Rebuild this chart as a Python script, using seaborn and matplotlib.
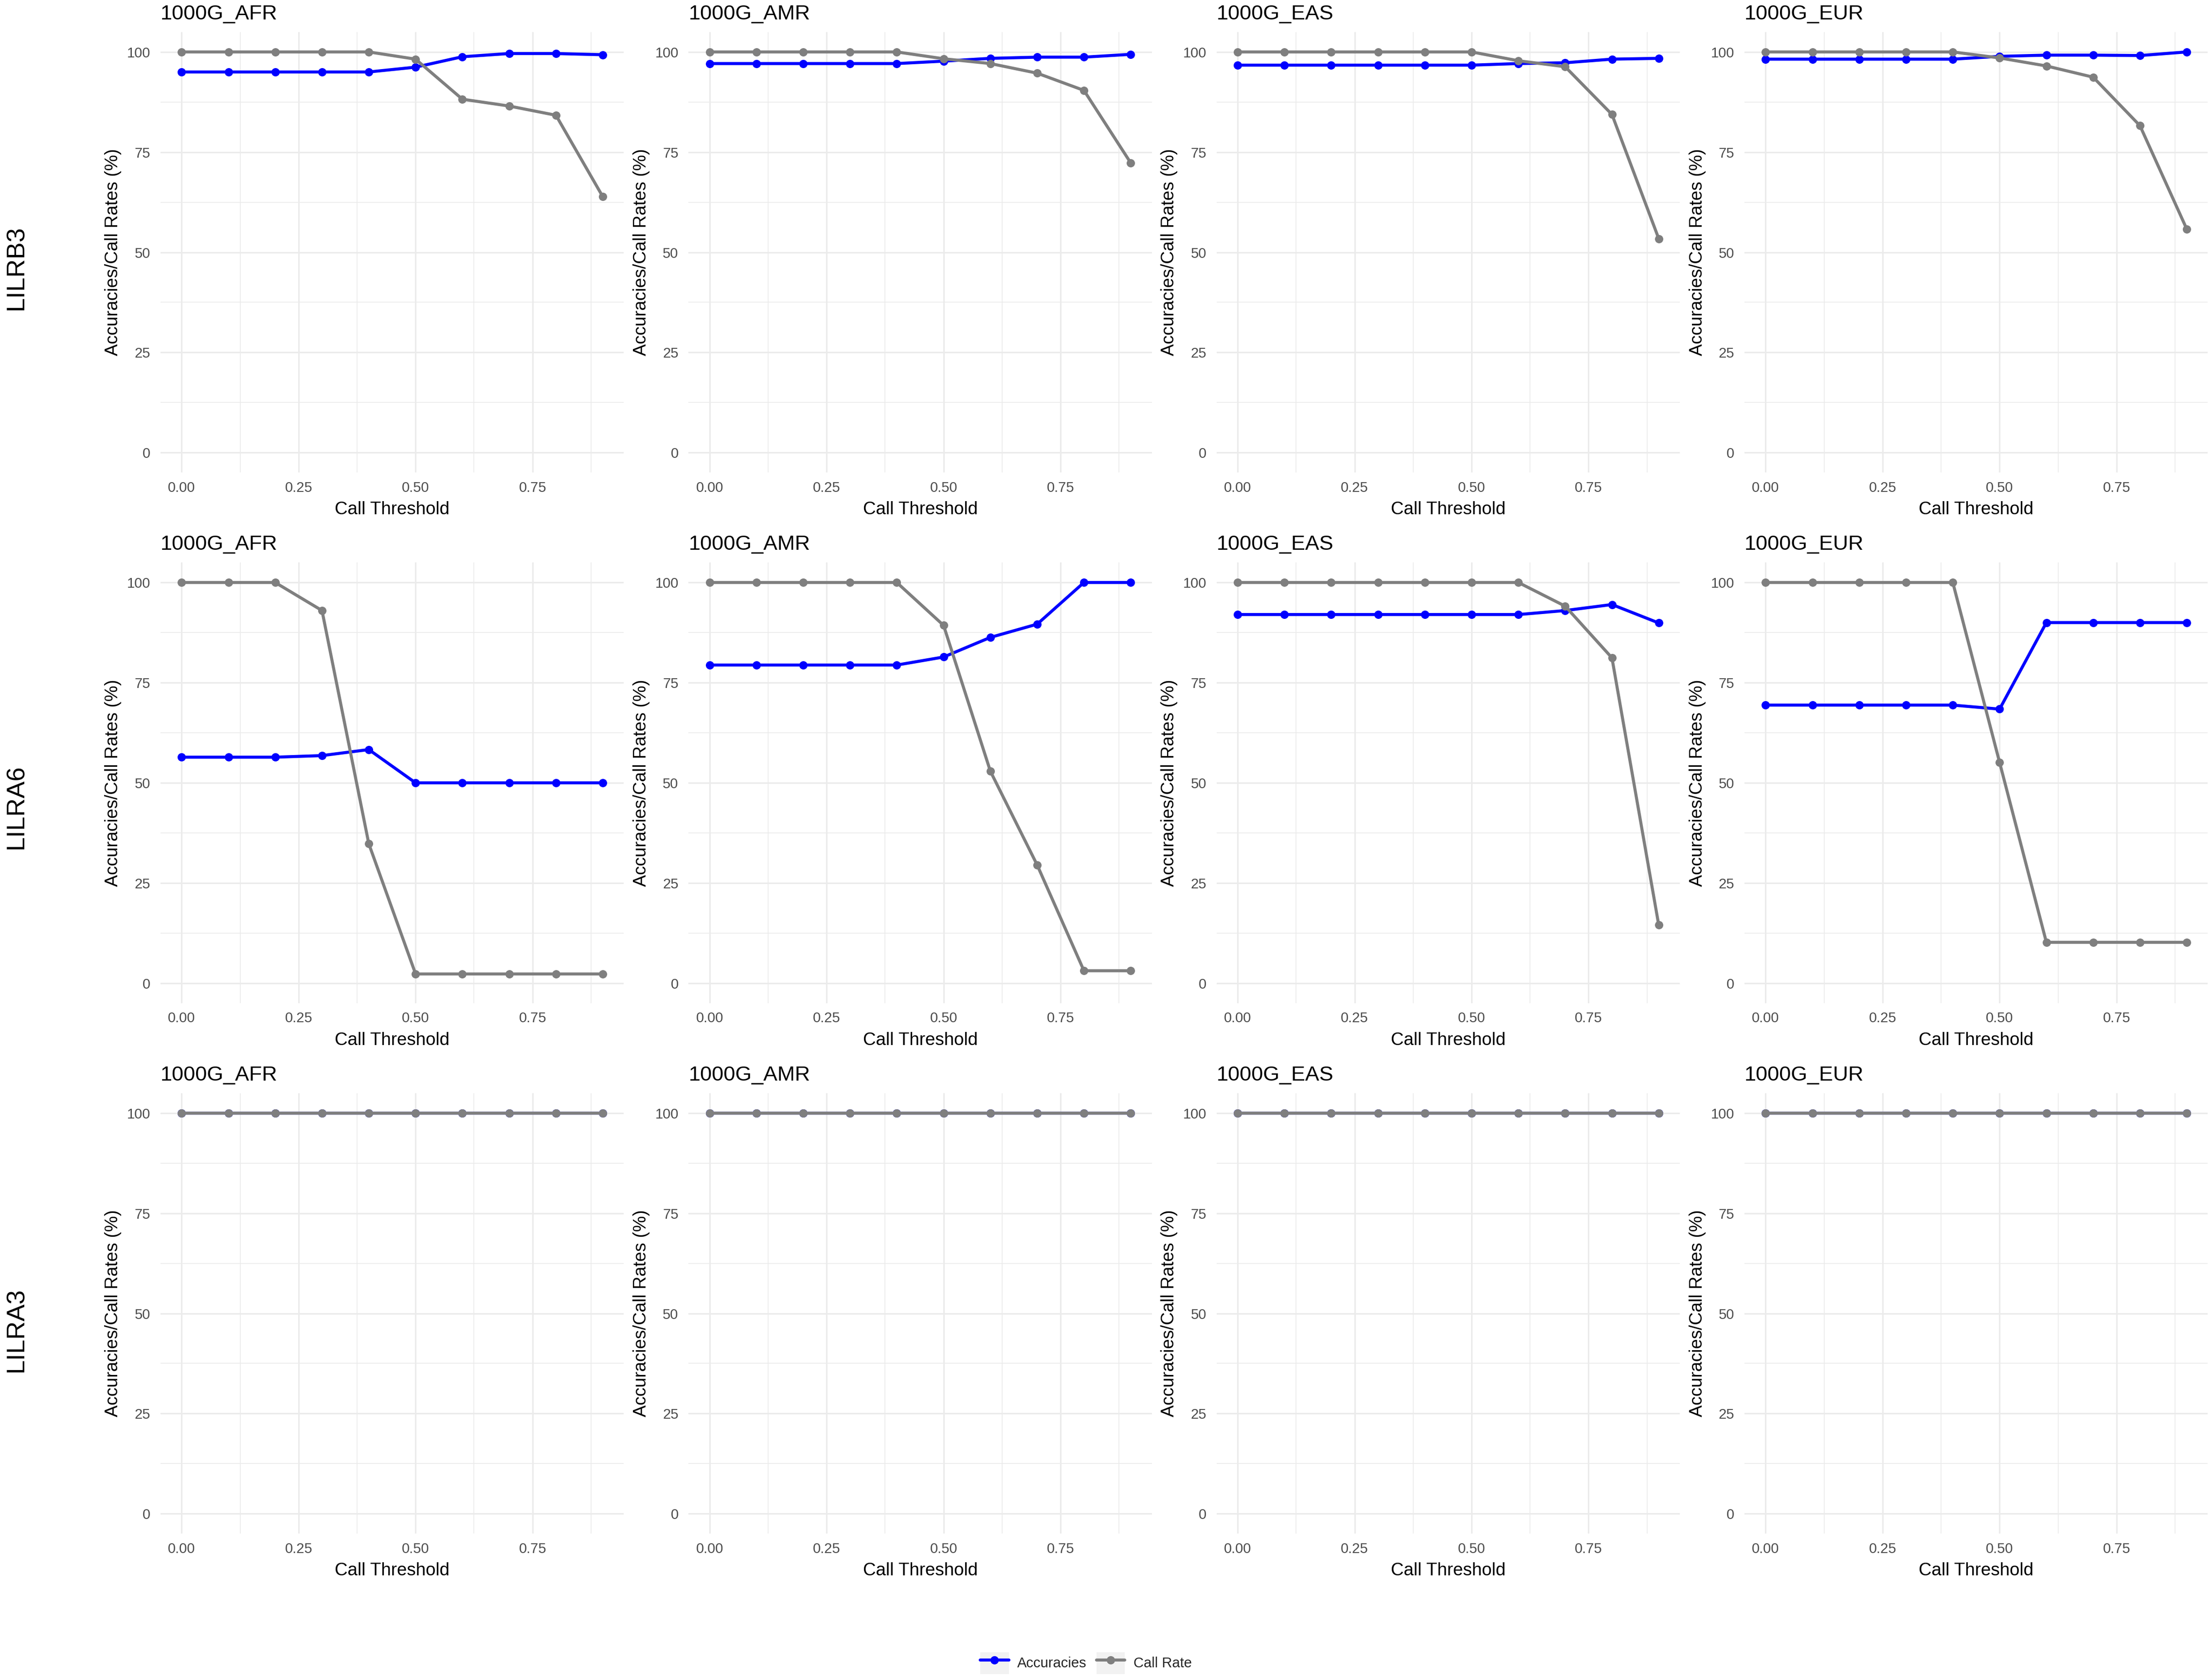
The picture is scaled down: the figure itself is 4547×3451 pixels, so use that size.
import matplotlib
matplotlib.use("Agg")
import matplotlib.pyplot as plt
from matplotlib.lines import Line2D
from matplotlib.patches import Rectangle
from matplotlib.legend_handler import HandlerLine2D
from matplotlib.ticker import FixedLocator, FormatStrFormatter
import pandas as pd
import seaborn as sns

# ---------------- data ----------------
thresholds = [0.0, 0.1, 0.2, 0.3, 0.4, 0.5, 0.6, 0.7, 0.8, 0.9]
genes = ["LILRB3", "LILRA6", "LILRA3"]
populations = ["1000G_AFR", "1000G_AMR", "1000G_EAS", "1000G_EUR"]
metrics = ["Accuracies", "Call Rate"]

# LILRB3
lilrb3_afr_acc = [95.0, 95.0, 95.0, 95.0, 95.0, 96.2, 98.8, 99.6, 99.6, 99.3]
lilrb3_afr_call = [100, 100, 100, 100, 100, 98.2, 88.2, 86.5, 84.2, 63.9]
lilrb3_amr_acc = [97.1, 97.1, 97.1, 97.1, 97.1, 97.7, 98.4, 98.7, 98.7, 99.4]
lilrb3_amr_call = [100, 100, 100, 100, 100, 98.3, 97.1, 94.7, 90.4, 72.3]
lilrb3_eas_acc = [96.7, 96.7, 96.7, 96.7, 96.7, 96.7, 97.1, 97.3, 98.2, 98.4]
lilrb3_eas_call = [100, 100, 100, 100, 100, 100, 97.8, 96.3, 84.4, 53.4]
lilrb3_eur_acc = [98.2, 98.2, 98.2, 98.2, 98.2, 98.9, 99.2, 99.2, 99.1, 100]
lilrb3_eur_call = [100, 100, 100, 100, 100, 98.5, 96.5, 93.7, 81.6, 55.8]

# LILRA6
lilra6_afr_acc = [56.4, 56.4, 56.4, 56.8, 58.3, 50.0, 50.0, 50.0, 50.0, 50.0]
lilra6_afr_call = [100, 100, 100, 93.0, 34.8, 2.3, 2.3, 2.3, 2.3, 2.3]
lilra6_amr_acc = [79.4, 79.4, 79.4, 79.4, 79.4, 81.4, 86.3, 89.6, 100, 100]
lilra6_amr_call = [100, 100, 100, 100, 100, 89.3, 52.9, 29.5, 3.1, 3.1]
lilra6_eas_acc = [92.0, 92.0, 92.0, 92.0, 92.0, 92.0, 92.0, 93.0, 94.5, 89.9]
lilra6_eas_call = [100, 100, 100, 100, 100, 100, 100, 94.1, 81.2, 14.5]
lilra6_eur_acc = [69.4, 69.4, 69.4, 69.4, 69.4, 68.4, 90.0, 90.0, 90.0, 90.0]
lilra6_eur_call = [100, 100, 100, 100, 100, 55.1, 10.2, 10.2, 10.2, 10.2]

# LILRA3
lilra3_afr_acc = [100, 100, 100, 100, 100, 100, 100, 100, 100, 100]
lilra3_afr_call = [100, 100, 100, 100, 100, 100, 100, 100, 100, 100]
lilra3_amr_acc = [100, 100, 100, 100, 100, 100, 100, 100, 100, 100]
lilra3_amr_call = [100, 100, 100, 100, 100, 100, 100, 100, 100, 100]
lilra3_eas_acc = [100, 100, 100, 100, 100, 100, 100, 100, 100, 100]
lilra3_eas_call = [100, 100, 100, 100, 100, 100, 100, 100, 100, 100]
lilra3_eur_acc = [100, 100, 100, 100, 100, 100, 100, 100, 100, 100]
lilra3_eur_call = [100, 100, 100, 100, 100, 100, 100, 100, 100, 100]

x_ticks = [0.0, 0.25, 0.50, 0.75]
y_ticks = [0, 25, 50, 75, 100]
x_label = "Call Threshold"
y_label = "Accuracies/Call Rates (%)"

series = {
    ("LILRB3", "1000G_AFR"): (lilrb3_afr_acc, lilrb3_afr_call),
    ("LILRB3", "1000G_AMR"): (lilrb3_amr_acc, lilrb3_amr_call),
    ("LILRB3", "1000G_EAS"): (lilrb3_eas_acc, lilrb3_eas_call),
    ("LILRB3", "1000G_EUR"): (lilrb3_eur_acc, lilrb3_eur_call),
    ("LILRA6", "1000G_AFR"): (lilra6_afr_acc, lilra6_afr_call),
    ("LILRA6", "1000G_AMR"): (lilra6_amr_acc, lilra6_amr_call),
    ("LILRA6", "1000G_EAS"): (lilra6_eas_acc, lilra6_eas_call),
    ("LILRA6", "1000G_EUR"): (lilra6_eur_acc, lilra6_eur_call),
    ("LILRA3", "1000G_AFR"): (lilra3_afr_acc, lilra3_afr_call),
    ("LILRA3", "1000G_AMR"): (lilra3_amr_acc, lilra3_amr_call),
    ("LILRA3", "1000G_EAS"): (lilra3_eas_acc, lilra3_eas_call),
    ("LILRA3", "1000G_EUR"): (lilra3_eur_acc, lilra3_eur_call),
}

rows = []
for (g, p), (acc, call) in series.items():
    for t, a, c in zip(thresholds, acc, call):
        rows.append({"gene": g, "pop": p, "threshold": t, "metric": "Accuracies", "value": a})
        rows.append({"gene": g, "pop": p, "threshold": t, "metric": "Call Rate", "value": c})
df = pd.DataFrame(rows)

palette = {"Accuracies": "#0000FF", "Call Rate": "#7F7F7F"}

# ---------------- style ----------------
sns.set_theme(style="white")
plt.rcParams["font.family"] = ["Liberation Sans", "DejaVu Sans"]
plt.rcParams["axes.edgecolor"] = "none"

W, H = 4547, 3451
DPI = 300
fig = plt.figure(figsize=(W / DPI, H / DPI), dpi=DPI)

left0 = 0.0726
pw = 0.2094
pg = 0.0293
ph = 0.2625
row_tops = [0.981, 0.665, 0.349]
label_y = [1 - 550 / H, 1 - 1658 / H, 1 - 2733 / H]

LW = 1.5
MS = 4.1
grid_col = "#EBEBEB"

for r, gene in enumerate(genes):
    for c, pop in enumerate(populations):
        ax = fig.add_axes([left0 + c * (pw + pg), row_tops[r] - ph, pw, ph])
        sub = df[(df.gene == gene) & (df["pop"] == pop)]
        sns.lineplot(data=sub, x="threshold", y="value", hue="metric",
                     hue_order=metrics, palette=palette, marker="o",
                     markersize=MS, markeredgewidth=0, linewidth=LW,
                     errorbar=None, legend=False, ax=ax)
        ax.set_xlim(-0.045, 0.945)
        ax.set_ylim(-5, 105)
        ax.xaxis.set_major_locator(FixedLocator(x_ticks))
        ax.xaxis.set_minor_locator(FixedLocator([0.125, 0.375, 0.625, 0.875]))
        ax.yaxis.set_major_locator(FixedLocator(y_ticks))
        ax.yaxis.set_minor_locator(FixedLocator([12.5, 37.5, 62.5, 87.5]))
        ax.xaxis.set_major_formatter(FormatStrFormatter("%.2f"))
        ax.yaxis.set_major_formatter(FormatStrFormatter("%d"))
        ax.grid(which="major", color=grid_col, linewidth=0.75)
        ax.grid(which="minor", color=grid_col, linewidth=0.4)
        ax.set_axisbelow(True)
        ax.tick_params(which="both", length=0)
        ax.tick_params(axis="x", labelsize=7.0, labelcolor="#4D4D4D", pad=4.2)
        ax.tick_params(axis="y", labelsize=7.0, labelcolor="#4D4D4D", pad=5)
        ax.set_xlabel(x_label, fontsize=8.8, color="black", labelpad=3.2)
        ax.set_ylabel(y_label, fontsize=8.8, color="black", labelpad=2.5)
        ax.set_title(pop, fontsize=10.4, loc="left", pad=6.2, color="black")
        for s in ax.spines.values():
            s.set_visible(False)
    fig.text(0.0075, label_y[r], gene, rotation=90, ha="center", va="center",
             fontsize=12.5, color="black")


class KeyHandler(HandlerLine2D):
    def create_artists(self, legend, orig_handle, xdescent, ydescent,
                       width, height, fontsize, trans):
        rect = Rectangle((-xdescent, -ydescent), width, height,
                         facecolor="#F2F2F2", edgecolor="none", transform=trans)
        arts = super().create_artists(legend, orig_handle, xdescent, ydescent,
                                      width, height, fontsize, trans)
        return [rect] + list(arts)


handles = [Line2D([], [], color=palette[m], marker="o", markersize=MS,
                  markeredgewidth=0, linewidth=LW) for m in metrics]
leg = fig.legend(handles, metrics, loc="center", bbox_to_anchor=(0.491, 0.0095),
                 ncol=2, frameon=False, fontsize=7.0, handlelength=2.0,
                 handleheight=2.0, handletextpad=0.6, columnspacing=0.7,
                 handler_map={Line2D: KeyHandler(numpoints=1)})

fig.savefig("out.png", dpi=DPI)
